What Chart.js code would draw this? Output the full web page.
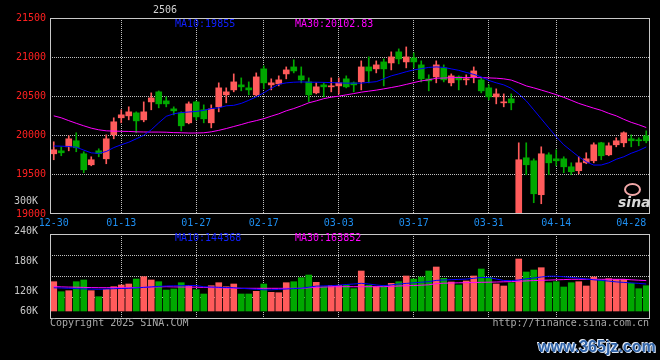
<!DOCTYPE html>
<html>
<head>
<meta charset="utf-8">
<script src="https://cdn.jsdelivr.net/npm/chart.js@4/dist/chart.umd.min.js"></script>
<style>
body { margin: 0; background: #000; width: 660px; height: 360px; overflow: hidden; position: relative; font: 10px "DejaVu Sans Mono", monospace; }
canvas { position: absolute; left: 0; }
#k { top: 0; }
#v { top: 190px; }
.t { position: absolute; white-space: pre; line-height: 10px; }
#wm { position: absolute; left: 538px; top: 338px; font: bold 16px "Liberation Sans", sans-serif; color: #2f63a8; text-shadow: 1px 1px 0 #d8e4f4, -1px -1px 0 #e8eef8; }
#logo { position: absolute; left: 618px; top: 194px; font: italic bold 14px "DejaVu Sans", sans-serif; color: #d8d8d8; }
#ring { position: absolute; left: 624px; top: 183px; width: 13px; height: 9px; border: 2px solid #f2a8a8; border-radius: 50%; }
</style>
</head>
<body>
<canvas id="k" width="660" height="232"></canvas>
<canvas id="v" width="660" height="170"></canvas>
<div class="t" style="left:153px;top:5px;color:#d0d0d0">2506</div>
<div class="t" style="left:175px;top:19px;color:#1020ff">MA10:19855</div>
<div class="t" style="left:295px;top:19px;color:#ff00ff">MA30:20102.83</div>
<div class="t" style="left:175px;top:233px;color:#1020ff">MA10:144368</div>
<div class="t" style="left:295px;top:233px;color:#ff00ff">MA30:163852</div>
<div class="t" style="left:50px;top:318px;color:#a8a8a8">Copyright 2025 SINA.COM</div>
<div class="t" style="right:11px;top:318px;color:#a8a8a8">http://finance.sina.com.cn</div>
<div id="ring"></div>
<div id="logo">sina</div>
<div id="wm">www.365jz.com</div>
<script>
const dates = [
  '12-30','12-31',
  '01-02','01-03','01-06','01-07','01-08','01-09','01-10','01-13','01-14','01-15',
  '01-16','01-17','01-20','01-21','01-22','01-23','01-24','01-27',
  '02-05','02-06','02-07','02-10','02-11','02-12','02-13','02-14','02-17','02-18',
  '02-19','02-20','02-21','02-24','02-25','02-26','02-27','02-28',
  '03-03','03-04','03-05','03-06','03-07','03-10','03-11','03-12','03-13','03-14',
  '03-17','03-18','03-19','03-20','03-21','03-24','03-25','03-26','03-27','03-28','03-31',
  '04-01','04-02','04-03','04-07','04-08','04-09','04-10','04-11','04-14','04-15',
  '04-16','04-17','04-18','04-21','04-22','04-23','04-24','04-25','04-28','04-29','04-30'
];
const xTickDates = ['12-30','01-13','01-27','02-17','03-03','03-17','03-31','04-14','04-28'];
const gridDates = ['01-13','01-27','02-17','03-03','03-17','03-31','04-14'];
const priceTicks = [19000, 19500, 20000, 20500, 21000, 21500];
const volTickValues = [60000, 120000, 180000, 240000, 300000];
const volTickLabels = ['60K', '120K', '180K', '240K', '300K'];

const opens = [
  19768,19806,19857,19934,19768,19628,19806,19704,20010,20227,
  20252,20290,20201,20430,20558,20443,20341,20290,20163,20430,
  20329,20163,20367,20520,20583,20647,20609,20520,20851,20647,
  20660,20787,20876,20762,20685,20545,20647,20622,20634,20724,
  20673,20685,20876,20851,20940,20927,21068,20940,20991,20902,
  20724,20749,20864,20673,20749,20711,20749,20711,20609,20494,
  20418,20469,18800,19717,19679,19246,19755,19704,19704,19602,
  19552,19653,19679,19908,19755,19883,19908,19959,19946,19997
];
const highs = [
  19921,19857,19997,20036,19794,19730,19832,20010,20227,20329,
  20367,20303,20430,20545,20570,20494,20367,20303,20430,20440,
  20392,20392,20673,20609,20787,20736,20685,20800,20889,20724,
  20762,20876,20966,20876,20736,20673,20673,20736,20736,20762,
  20685,20953,21004,20953,20978,21068,21106,21131,21055,20953,
  20775,20953,20902,20787,20762,20775,20876,20736,20647,20596,
  20532,20532,19908,19908,19704,19857,19781,19819,19730,19653,
  19730,19781,19908,19915,19908,19972,20048,20010,19972,20061
];
const lows = [
  19692,19743,19806,19794,19526,19615,19730,19641,19959,20163,
  20201,20036,20176,20329,20354,20367,20265,20061,20150,20201,
  20163,20099,20303,20418,20558,20571,20520,20505,20596,20583,
  20634,20724,20800,20673,20430,20532,20494,20558,20532,20609,
  20558,20583,20673,20800,20634,20838,20915,20864,20864,20685,
  20571,20673,20685,20634,20583,20647,20673,20545,20456,20405,
  20367,20329,18700,19501,19144,19131,19501,19615,19526,19501,
  19513,19641,19653,19692,19743,19857,19857,19857,19870,19908
];
const closes = [
  19819,19781,19959,19845,19564,19692,19770,19959,20176,20265,
  20303,20188,20303,20481,20405,20405,20316,20125,20405,20239,
  20214,20341,20609,20558,20685,20622,20583,20749,20673,20673,
  20711,20838,20825,20711,20520,20622,20622,20634,20673,20622,
  20647,20876,20825,20902,20851,21004,20978,21004,20940,20724,
  20698,20902,20711,20762,20711,20724,20825,20571,20494,20532,
  20430,20418,19692,19628,19258,19768,19653,19679,19602,19539,
  19653,19704,19883,19743,19870,19934,20036,19934,19934,19934
];
const ma10 = [
  19867,19865,19861,19852,19815,19780,19773,19797,19847,19883,
  19915,19959,20004,20074,20163,20246,20278,20294,20301,20308,
  20322,20345,20354,20380,20386,20411,20450,20494,20545,20603,
  20654,20673,20681,20685,20681,20681,20679,20676,20673,20669,
  20669,20669,20679,20688,20724,20762,20787,20815,20838,20853,
  20870,20876,20870,20851,20832,20806,20781,20749,20704,20673,
  20647,20603,20532,20443,20329,20214,20099,19985,19883,19806,
  19730,19666,19624,19625,19653,19698,19730,19775,19810,19855
];
const ma30 = [
  20252,20227,20191,20157,20125,20095,20074,20061,20057,20055,
  20053,20048,20046,20045,20045,20043,20038,20036,20033,20033,
  20036,20048,20067,20090,20116,20141,20169,20191,20216,20248,
  20278,20316,20345,20380,20418,20443,20471,20490,20503,20520,
  20536,20554,20567,20580,20596,20613,20631,20653,20676,20698,
  20711,20732,20734,20739,20740,20740,20740,20739,20736,20732,
  20724,20708,20673,20634,20609,20581,20552,20522,20488,20450,
  20411,20380,20350,20322,20284,20252,20208,20169,20138,20102.83
];
const volumes = [
  138600,118600,120600,138600,142000,120600,108600,123400,128600,132000,
  134000,144000,148600,142000,138600,122000,124000,136600,131400,122600,
  114000,130600,136600,128600,134000,114000,114000,119400,134000,117400,
  116600,136600,138600,146600,152000,137400,128600,131400,131400,131400,
  124600,160000,131400,128600,131400,135400,138600,150000,144000,148000,
  160000,168000,145400,138000,132000,140000,150000,164000,147400,134000,
  130000,136600,184000,158000,162000,166600,136600,138600,128000,136600,
  138600,130000,148000,142000,144600,143400,143400,135400,124600,130600
];
const volMa10 = [
  126400,126000,125400,124800,124200,123800,123400,124000,124600,125000,
  125400,126200,127200,128200,129200,130000,130400,130600,130800,131000,
  128400,128000,127400,127000,126600,125400,124400,123400,122400,122400,
  123200,124000,124800,125600,127600,129800,130200,130600,131600,133000,
  134000,135400,134000,132000,130600,132200,134000,135200,136400,137600,
  138600,141200,142000,142600,143200,143800,145400,147000,147000,144000,
  141000,140800,142000,144400,146000,148000,149600,149600,148400,147200,
  145600,144000,142400,141200,139800,138200,137200,136200,135200,134000
];
const volMa30 = [
  128600,128200,127800,127600,127200,126800,126600,126600,126600,126600,
  126600,127000,127400,127800,128200,128600,128200,128000,127800,127600,
  127200,126800,126400,126000,125600,125400,125400,125400,125400,125400,
  125400,125400,125400,125400,126400,127400,128000,128400,128600,128600,
  128600,128600,128600,128600,128600,129200,130000,130600,131000,131600,
  132400,134800,135600,136000,136400,136600,137000,137400,137600,138000,
  138400,138800,139600,140200,140800,141400,141800,142400,142800,143400,
  143400,143400,143400,143400,143400,143400,143400,142400,141600,140800
];

const UP = '#ff5b5b', DOWN = '#00a800', GRID = '#c0c0c0', FRAME = '#c8c8c8';
const FONT = { family: 'DejaVu Sans Mono', size: 10 };
const volBase = 80000;

const colors = closes.map((c, i) => c >= opens[i] ? UP : DOWN);

// chart area outline, like the boxed panels of the original
const frame = {
  id: 'frame',
  afterDatasetsDraw(chart) {
    const { ctx, chartArea: a } = chart;
    ctx.save();
    ctx.strokeStyle = FRAME;
    ctx.lineWidth = 1;
    ctx.strokeRect(a.left + 0.5, a.top + 0.5, a.right - a.left - 1, a.bottom - a.top - 1);
    ctx.restore();
  }
};

function xAxis(showLabels) {
  return {
    type: 'category',
    offset: true,
    grid: {
      offset: false,
      drawTicks: false,
      color: c => gridDates.includes(dates[c.index]) ? GRID : 'transparent'
    },
    border: { display: false, dash: [1, 1] },
    ticks: {
      display: showLabels,
      autoSkip: false,
      maxRotation: 0,
      padding: 3,
      color: '#1e8ef0',
      font: FONT,
      callback: (v, i) => xTickDates.includes(dates[i]) ? dates[i] : ''
    },
    afterFit: s => { s.height = showLabels ? 18 : 0; }
  };
}

function maLine(data, color, axis) {
  return {
    type: 'line', data: data, yAxisID: axis, order: 0,
    borderColor: color, borderWidth: 1, pointRadius: 0, tension: 0
  };
}

Chart.defaults.animation = false;

new Chart(document.getElementById('k'), {
  type: 'bar',
  data: {
    labels: dates,
    datasets: [
      maLine(ma10, '#0000ff', 'y'),
      maLine(ma30, '#ff00ff', 'y'),
      {
        data: closes.map((c, i) => [opens[i], c]),
        backgroundColor: colors, barThickness: 6, minBarLength: 1,
        grouped: false, order: 1
      },
      {
        data: lows.map((l, i) => [l, highs[i]]),
        backgroundColor: colors, barThickness: 1,
        grouped: false, order: 2
      }
    ]
  },
  options: {
    responsive: false,
    devicePixelRatio: 1,
    layout: { padding: { top: 18, right: 10, left: 0, bottom: 0 } },
    plugins: { legend: { display: false }, tooltip: { enabled: false } },
    scales: {
      x: xAxis(true),
      y: {
        min: 19000, max: 21500,
        afterBuildTicks: s => { s.ticks = priceTicks.map(v => ({ value: v })); },
        grid: {
          drawTicks: false,
          color: c => (c.tick.value === 19000 || c.tick.value === 21500) ? 'transparent' : GRID
        },
        border: { display: false, dash: [1, 1] },
        ticks: { color: '#ff2020', padding: 4, font: FONT, callback: v => String(v) },
        afterFit: s => { s.width = 50; }
      }
    }
  },
  plugins: [frame]
});

new Chart(document.getElementById('v'), {
  type: 'bar',
  data: {
    labels: dates,
    datasets: [
      maLine(volMa10, '#0000ff', 'y'),
      maLine(volMa30, '#ff00ff', 'y'),
      {
        data: volumes, base: volBase,
        backgroundColor: colors, barThickness: 6, order: 1
      }
    ]
  },
  options: {
    responsive: false,
    devicePixelRatio: 1,
    layout: { padding: { top: 44, right: 10, left: 0, bottom: 41 } },
    plugins: { legend: { display: false }, tooltip: { enabled: false } },
    scales: {
      x: xAxis(false),
      y: {
        min: 64000, max: 234000,
        // labels below the bar base are pinned to it, as in the original
        afterBuildTicks: s => { s.ticks = volTickValues.map(v => ({ value: Math.max(v, volBase) })); },
        grid: { display: false },
        border: { display: false },
        ticks: { color: '#c8c8c8', padding: 4, font: FONT, callback: (v, i) => volTickLabels[i] },
        afterFit: s => { s.width = 50; }
      },
      q: {
        position: 'right',
        min: 0, max: 4,
        afterBuildTicks: s => { s.ticks = [1, 2, 3].map(v => ({ value: v })); },
        grid: { drawTicks: false, color: GRID },
        border: { display: false, dash: [1, 1] },
        ticks: { display: false },
        afterFit: s => { s.width = 0; }
      }
    }
  },
  plugins: [frame]
});
</script>
</body>
</html>
